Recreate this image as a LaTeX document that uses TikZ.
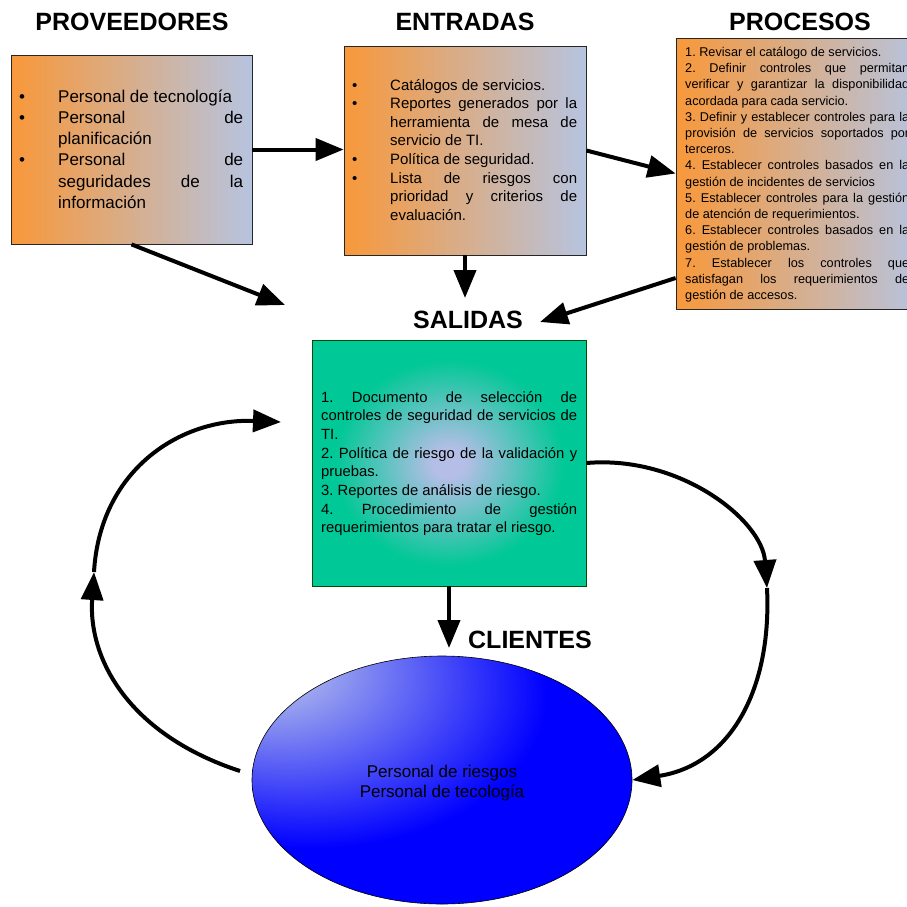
\documentclass[tikz,border=0pt]{standalone}
\usepackage{fontspec}
\setmainfont{Liberation Sans}
\usetikzlibrary{arrows.meta,shapes.geometric}

\definecolor{orangeL}{RGB}{248,152,58}
\definecolor{blueR}{RGB}{182,196,224}
\definecolor{salG}{RGB}{0,200,150}
\definecolor{salC}{RGB}{180,190,230}
\definecolor{cliL}{RGB}{160,170,238}
\definecolor{cliB}{RGB}{0,0,255}

\pgfdeclareradialshading{salshade}{\pgfpoint{0bp}{0bp}}{color(0bp)=(salC); color(3bp)=(salC); color(21bp)=(salG); color(50bp)=(salG)}
\pgfdeclareradialshading{clishade}{\pgfpoint{-25bp}{25bp}}{color(0bp)=(cliL); color(7bp)=(cliL); color(31bp)=(cliB); color(100bp)=(cliB)}

\hyphenpenalty=10000
\exhyphenpenalty=10000
\tolerance=10000
\frenchspacing

% bulleted item with hanging indent, one paragraph each
\newcommand\bul[1]{\noindent\llap{\makebox[\leftskip][l]{\textbullet}}#1\par}

\begin{document}
\begin{tikzpicture}[x=1pt,y=-1pt,
  obox/.style={draw=black!85, line width=0.8pt, left color=orangeL, right color=blueR, inner sep=0},
  title/.style={font=\fontsize{25}{30}\selectfont\bfseries, inner sep=0},
  txt/.style={anchor=base west, inner sep=0, align=justify, text width=#1},
  arr/.style={line width=4pt, -{Triangle[length=28pt,width=22pt]}}]

\useasboundingbox (0,0) rectangle (907,906);

% column titles
\node[title] (tprov) at (132,22) {PROVEEDORES};
\node[title] (tentr) at (465,22) {ENTRADAS};
\node[title] (tproc) at (800,22) {PROCESOS};
\node[title] (tsal)  at (468,320) {SALIDAS};
\node[title] (tcli)  at (530,640) {CLIENTES};

% boxes
\node[obox, minimum width=241pt, minimum height=189pt] (prov) at (131.5,149.5) {};
\node[obox, minimum width=242pt, minimum height=209pt] (entr) at (465,150.5) {};
\node[obox, minimum width=244pt, minimum height=271pt] (proc) at (798,173.5) {};
\node[draw=black!70!green, line width=0.8pt, shading=salshade, inner sep=0,
      minimum width=274pt, minimum height=246pt] (sal) at (449,463) {};
\node[ellipse, draw=black, line width=0.6pt, shading=clishade, inner sep=0,
      minimum width=380pt, minimum height=248pt] (cli) at (442,780) {};

% box texts
\node[txt=224pt, font=\fontsize{17}{21.3}\selectfont] (provt) at (19,102) {%
  \leftskip=39pt
  \bul{Personal de tecnología}%
  \bul{Personal de\linebreak planificación}%
  \bul{Personal de\linebreak seguridades de la\linebreak información}};

\node[txt=225pt, font=\fontsize{15}{18.6}\selectfont] (entrt) at (352,90) {%
  \leftskip=38pt
  \bul{Catálogos de servicios.}%
  \bul{Reportes generados por la\linebreak herramienta de mesa de\linebreak servicio de TI.}%
  \bul{Política de seguridad.}%
  \bul{Lista de riesgos con\linebreak prioridad y criterios de\linebreak evaluación.}};

\node[txt=224pt, font=\fontsize{12.7}{16.2}\selectfont] (proct) at (685,56.5) {%
  1. Revisar el catálogo de servicios.\par
  2. Definir controles que permitan\linebreak verificar y garantizar la disponibilidad\linebreak acordada para cada servicio.\par
  3. Definir y establecer controles para la\linebreak provisión de servicios soportados por\linebreak terceros.\par
  4. Establecer controles basados en la\linebreak gestión de incidentes de servicios\par
  5. Establecer controles para la gestión\linebreak de atención de requerimientos.\par
  6. Establecer controles basados en la\linebreak gestión de problemas.\par
  7. Establecer los controles que\linebreak satisfagan los requerimientos de\linebreak gestión de accesos.\par};

\node[txt=256pt, font=\fontsize{14.8}{18.7}\selectfont] (salt) at (321,402) {%
  1. Documento de selección de\linebreak controles de seguridad de servicios de\linebreak TI.\par
  2. Política de riesgo de la validación y\linebreak pruebas.\par
  3. Reportes de análisis de riesgo.\par
  4. Procedimiento de gestión\linebreak requerimientos para tratar el riesgo.\par};

\node[align=center, inner sep=0, font=\fontsize{17}{20}\selectfont] (clit) at (442,783)
  {Personal de riesgos\\Personal de tecología};

% free ends of connectors
\coordinate (p3) at (285,305);
\coordinate (p4) at (465,298);
\coordinate (p5) at (540,322);
\coordinate (p6) at (449,648);
\coordinate (l0) at (240,771);
\coordinate (l1) at (94,572);
\coordinate (l2) at (281,422);
\coordinate (r1) at (767,588);

% straight connectors
\draw[arr] (prov.east) -- (prov.east -| entr.west);
\draw[arr] (entr.east) -- (proc.west);
\draw[arr] (prov.south) -- (p3);
\draw[arr] (entr.south) -- (p4);
\draw[arr] ([yshift=-104.5pt]proc.west) -- (p5);
\draw[arr] (sal.south) -- (p6);

% feedback loop, left side
\draw[arr] (l0) .. controls (130,735) and (88,660) .. (l1);
\draw[arr] (l1) .. controls (100,470) and (180,418) .. (l2);

% feedback loop, right side
\draw[arr] (sal.east) .. controls (680,455) and (762,520) .. (r1);
\draw[arr] (r1) .. controls (772,690) and (730,765) .. (cli.east);
\end{tikzpicture}
\end{document}
